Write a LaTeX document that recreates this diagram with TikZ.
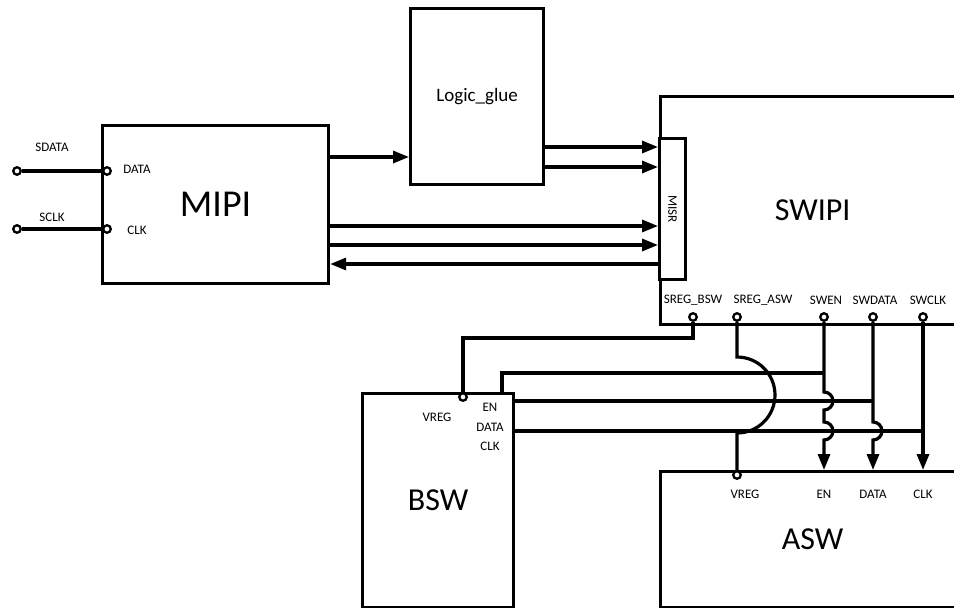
\documentclass[tikz,border=0pt]{standalone}
\usepackage{fontspec}
\setmainfont{Carlito}
\usetikzlibrary{arrows.meta}

\begin{document}
\begin{tikzpicture}[
    x=1pt, y=-1pt, line width=3.2pt,
    blk/.style={draw,line width=3.2pt,inner sep=0pt,anchor=north west,
        font=\fontsize{32}{32}\selectfont},
    port/.style={circle,draw,fill=white,line width=2.3pt,inner sep=0pt,minimum size=7.5pt},
    lbl/.style={inner sep=0pt,font=\fontsize{13}{13}\selectfont},
    sig/.style={-{Triangle[length=16pt,width=12pt]}}]
    \clip (0,0) rectangle (954,608);
    \node[blk,minimum width=226pt,minimum height=158pt,font=\fontsize{38}{38}\selectfont]
        (mipi) at (101,124) {MIPI};
    \node[blk,minimum width=133pt,minimum height=176pt,font=\fontsize{19}{19}\selectfont]
        (glue) at (409,7) {Logic\_glue};
    \node[blk,minimum width=304pt,minimum height=228pt] (swipi) at (659,95) {SWIPI};
    \node[blk,minimum width=26pt,minimum height=141pt,fill=white] (misr) at (658,137) {};
    \node[lbl,rotate=-90] (misrt) at (misr.center) {MISR};
    \node[blk,minimum width=151pt,minimum height=214pt] (bsw) at (361,392) {BSW};
    \node[blk,minimum width=304pt,minimum height=136pt] (asw) at (659,470) {ASW};

    \node[port] (sdata) at (17,171) {};
    \node[port] (mdata) at (107,171) {};
    \node[port] (sclk) at (17,229) {};
    \node[port] (mclk) at (107,229) {};
    \foreach \n/\x in {sbsw/693,sasw/737,swen/824,swdat/873,swclk/923}
        \node[port] (\n) at (\x,317) {};
    \node[port] (bvreg) at (463,397) {};
    \node[port] (avreg) at (737,475) {};

    \node[lbl] (tsdata) at (52,147) {SDATA};
    \node[lbl] (tsclk) at (52,217) {SCLK};
    \node[lbl] (tmdata) at (137,169) {DATA};
    \node[lbl] (tmclk) at (137,230) {CLK};
    \foreach \n/\x/\t in {tsbsw/693/SREG\_BSW,tsasw/763/SREG\_ASW,tswen/826/SWEN,
        tswdat/875/SWDATA,tswclk/928/SWCLK}
        \node[lbl] (\n) at (\x,300) {\t};
    \node[lbl] (tbvreg) at (437,417) {VREG};
    \foreach \n/\y/\t in {tben/407/EN,tbdat/427/DATA,tbclk/446/CLK}
        \node[lbl] (\n) at (490,\y) {\t};
    \foreach \n/\x/\t in {tavreg/745/VREG,taen/824/EN,tadat/873/DATA,taclk/923/CLK}
        \node[lbl] (\n) at (\x,494) {\t};

    \draw (sdata) -- (mdata);
    \draw (sclk) -- (mclk);
    \draw[sig] (mipi.east |- 0,157) -- (glue.west |- 0,157);
    \foreach \y in {147,167}
        \draw[sig] (glue.east |- 0,\y) -- (misr.west |- 0,\y);
    \foreach \y in {226,245}
        \draw[sig] (mipi.east |- 0,\y) -- (misr.west |- 0,\y);
    \draw[sig] (misr.west |- 0,264) -- (mipi.east |- 0,264);

    \draw (sbsw) -- (sbsw |- 0,338) -- (bvreg |- 0,338) -- (bvreg);
    \draw (bsw.north -| 502,0) -- (502,373) -- (swen |- 0,373);
    \draw (bsw.east |- 0,401) -- (swdat |- 0,401);
    \draw (bsw.east |- 0,431) -- (swclk |- 0,431);
    \draw[sig] (swen) -- (824,392) arc[start angle=-90,end angle=90,radius=9]
        -- (824,422) arc[start angle=-90,end angle=90,radius=9] -- (asw.north -| swen);
    \draw[sig] (swdat) -- (873,422) arc[start angle=-90,end angle=90,radius=9]
        -- (asw.north -| swdat);
    \draw[sig] (swclk) -- (asw.north -| swclk);
    \draw (sasw) -- (737,357) arc[start angle=-90,end angle=90,radius=38] -- (avreg);
\end{tikzpicture}
\end{document}
